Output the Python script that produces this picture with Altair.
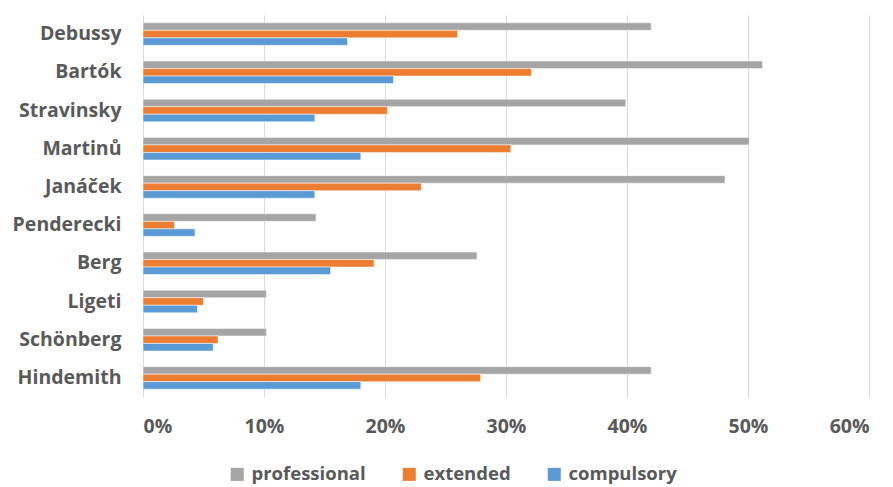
import altair as alt
import pandas as pd

composers = ["Debussy", "Bartók", "Stravinsky", "Martinů", "Janáček",
             "Penderecki", "Berg", "Ligeti", "Schönberg", "Hindemith"]
professional = [42.0, 51.2, 39.9, 50.1, 48.1, 14.3, 27.6, 10.2, 10.2, 42.0]
extended = [26.0, 32.1, 20.2, 30.4, 23.0, 2.6, 19.1, 5.0, 6.2, 27.9]
compulsory = [16.9, 20.7, 14.2, 18.0, 14.2, 4.3, 15.5, 4.5, 5.8, 18.0]
series = ["professional", "extended", "compulsory"]
colors = ["#A5A5A5", "#ED7D31", "#5B9BD5"]

rows = []
for i, c in enumerate(composers):
    for s, vals in zip(series, [professional, extended, compulsory]):
        rows.append({"composer": c, "series": s, "value": vals[i] / 100})
df = pd.DataFrame(rows)

FONT = "Open Sans"
LABEL_COLOR = "#595959"
FS = 19.5

chart = alt.Chart(df).mark_bar(stroke="white", strokeWidth=0.5).encode(
    y=alt.Y("composer:N", sort=composers,
            scale=alt.Scale(paddingInner=0.41, paddingOuter=0.205),
            axis=alt.Axis(title=None, domain=False, ticks=False, labelPadding=22,
                          labelFontSize=FS, labelFontWeight="bold", labelColor=LABEL_COLOR,
                          labelFont=FONT)),
    x=alt.X("value:Q", scale=alt.Scale(domain=[0, 0.6], nice=False),
            axis=alt.Axis(title=None, format=".0%", values=[0, 0.1, 0.2, 0.3, 0.4, 0.5, 0.6],
                          domain=False, ticks=False, labelPadding=20, labelFontSize=FS,
                          labelFontWeight="bold", labelColor=LABEL_COLOR, labelFont=FONT,
                          gridColor="#D9D9D9", gridWidth=1)),
    yOffset=alt.YOffset("series:N", sort=series),
    color=alt.Color("series:N", sort=series,
                    scale=alt.Scale(domain=series, range=colors),
                    legend=alt.Legend(title=None, orient="none", direction="horizontal",
                                      legendX=85, legendY=450, symbolType="square",
                                      symbolSize=170, symbolStrokeWidth=0,
                                      labelFontSize=18.5, labelFontWeight="bold",
                                      labelColor=LABEL_COLOR, labelFont=FONT,
                                      columnPadding=34, symbolOffset=0, labelOffset=5)),
).properties(
    width=726, height=382,
    autosize=alt.AutoSizeParams(type="none"),
    padding={"left": 143, "top": 15, "right": 24, "bottom": 90},
).configure_view(stroke=None)

chart.save("out.html", embed_options={"renderer": "svg", "actions": False})
